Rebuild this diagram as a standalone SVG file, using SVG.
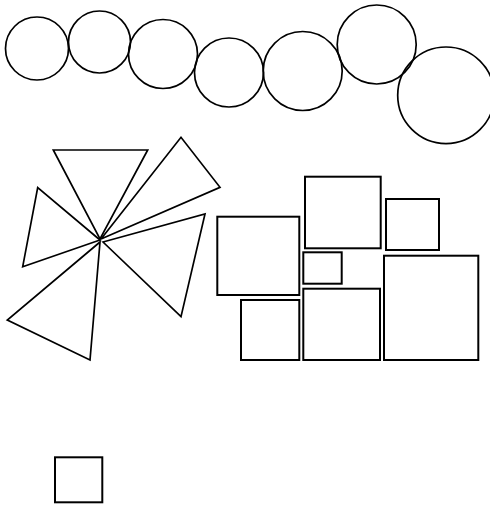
<svg xmlns="http://www.w3.org/2000/svg" width="490" height="507" viewBox="0 0 490 507">
<style>
.s{fill:none;stroke:#000;stroke-width:1.7;stroke-linejoin:miter}
.r{fill:none;stroke:#000;stroke-width:2}
</style>
<rect width="490" height="507" fill="#fff"/>
<g id="circles">
<g id="c1"><circle class="s" cx="37" cy="48.5" r="31.5"/></g>
<g id="c2"><circle class="s" cx="99.5" cy="42" r="31"/></g>
<g id="c3"><circle class="s" cx="163" cy="54" r="34.5"/></g>
<g id="c4"><circle class="s" cx="229" cy="72.5" r="34.5"/></g>
<g id="c5"><circle class="s" cx="302.7" cy="71" r="39.5"/></g>
<g id="c6"><circle class="s" cx="376.7" cy="44.5" r="39.5"/></g>
<g id="c7"><circle class="s" cx="446" cy="95.3" r="48.3"/></g>
</g>
<g id="triangles">
<g id="t1"><polygon class="s" points="53.3,150 147.7,150 100,239"/></g>
<g id="t2"><polygon class="s" points="101,239 181,137.3 220,187.3"/></g>
<g id="t3"><polygon class="s" points="100,240 37.7,187.7 22.7,266.7"/></g>
<g id="t4"><polygon class="s" points="103,242 205,214 181,316.7"/></g>
<g id="t5"><polygon class="s" points="100,242 7.3,320 90,360"/></g>
</g>
<g id="rects">
<g id="r1"><rect class="r" x="217.3" y="216.7" width="82" height="78.3"/></g>
<g id="r2"><rect class="r" x="305" y="176.7" width="75.7" height="71.6"/></g>
<g id="r3"><rect class="r" x="386" y="199" width="53" height="51"/></g>
<g id="r4"><rect class="r" x="303.3" y="252.3" width="38.4" height="31.4"/></g>
<g id="r5"><rect class="r" x="241" y="300" width="58.3" height="60"/></g>
<g id="r6"><rect class="r" x="303.3" y="288.7" width="76.7" height="71.3"/></g>
<g id="r7"><rect class="r" x="384" y="255.7" width="94.3" height="104.3"/></g>
</g>
<g id="sq"><rect class="r" x="55" y="457.3" width="47.3" height="45"/></g>
</svg>
